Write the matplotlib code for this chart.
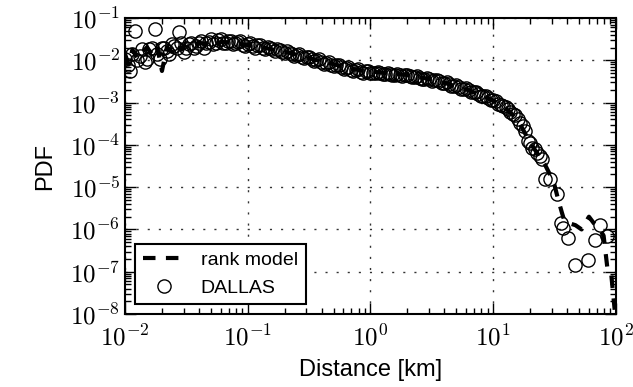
import matplotlib
matplotlib.use("Agg")
import matplotlib.pyplot as plt
import matplotlib.ticker as mticker
import numpy as np

plt.rcParams['mathtext.fontset'] = 'cm'
plt.rcParams['font.family'] = ['Liberation Sans', 'DejaVu Sans']

# DALLAS circles (distance in km, pdf)
dallas_km = [
    0.0100, 0.0110, 0.0120, 0.0132, 0.0145, 0.0158, 0.0174, 0.0191, 0.0209, 0.0229,
    0.0251, 0.0275, 0.0302, 0.0331, 0.0363, 0.0398, 0.0437, 0.0479, 0.0525, 0.0575,
    0.0631, 0.0692, 0.0759, 0.0832, 0.0912,
    0.100, 0.110, 0.120, 0.132, 0.145, 0.158, 0.174, 0.191, 0.209, 0.229,
    0.251, 0.275, 0.302, 0.331, 0.363, 0.398, 0.437, 0.479, 0.525, 0.575,
    0.631, 0.692, 0.759, 0.832, 0.912,
    1.00, 1.10, 1.20, 1.32, 1.45, 1.58, 1.74, 1.91, 2.09, 2.29,
    2.51, 2.75, 3.02, 3.31, 3.63, 3.98, 4.37, 4.79, 5.25, 5.75,
    6.31, 6.92, 7.59, 8.32, 9.12,
    10.0, 11.0, 12.0, 13.2, 14.5, 15.8, 17.4, 19.1, 20.9, 22.9, 25.1,
    26.3, 28.8, 33.1, 35.5, 37.2, 40.7, 46.8, 58.9, 67.6, 74.1, 85.1,
]
dallas_pdf = [
    1.1e-2, 5.6e-3, 5.0e-2, 1.26e-2, 8.9e-3, 1.8e-2, 5.4e-2, 1.1e-2, 2.0e-2, 1.4e-2,
    2.2e-2, 4.6e-2, 1.6e-2, 2.4e-2, 1.9e-2, 2.5e-2, 2.0e-2, 2.75e-2, 2.4e-2, 3.0e-2,
    2.6e-2, 2.8e-2, 2.4e-2, 2.7e-2, 2.3e-2,
    2.4e-2, 2.2e-2, 2.3e-2, 2.0e-2, 2.1e-2, 1.8e-2, 1.8e-2, 1.6e-2, 1.65e-2, 1.4e-2,
    1.35e-2, 1.2e-2, 1.17e-2, 1.05e-2, 1.0e-2, 8.9e-3, 8.7e-3, 7.6e-3, 7.6e-3, 6.8e-3,
    6.5e-3, 5.9e-3, 5.75e-3, 5.4e-3, 5.5e-3,
    5.1e-3, 5.0e-3, 4.9e-3, 4.7e-3, 4.8e-3, 4.6e-3, 4.5e-3, 4.4e-3, 4.3e-3, 4.1e-3,
    3.9e-3, 3.7e-3, 3.55e-3, 3.4e-3, 3.2e-3, 2.95e-3, 2.7e-3, 2.5e-3, 2.3e-3, 2.15e-3,
    1.95e-3, 1.75e-3, 1.6e-3, 1.4e-3, 1.25e-3,
    1.12e-3, 9.5e-4, 8.3e-4, 6.9e-4, 5.4e-4, 4.0e-4, 2.8e-4, 1.26e-4, 8.5e-5, 6.5e-5, 4.7e-5,
    1.6e-5, 1.6e-5, 6.8e-6, 1.4e-6, 1.07e-6, 6.3e-7, 1.45e-7, 1.9e-7, 5.6e-7, 1.3e-6, 7.1e-7,
]
# second batch of DALLAS bins, lying between the ones above
dallas_km_b = [
    0.0105, 0.0115, 0.0126, 0.0138, 0.0151, 0.0166, 0.0182, 0.0200, 0.0219, 0.0240,
    0.0263, 0.0288, 0.0316, 0.0347, 0.0380, 0.0417, 0.0457, 0.0501, 0.0550, 0.0603,
    0.0661, 0.0724, 0.0794, 0.0871, 0.0955,
    0.105, 0.115, 0.126, 0.138, 0.151, 0.166, 0.182, 0.200, 0.219, 0.240,
    0.263, 0.288, 0.316, 0.347, 0.380, 0.417, 0.457, 0.501, 0.550, 0.603,
    0.661, 0.724, 0.794, 0.871, 0.955,
    1.05, 1.15, 1.26, 1.38, 1.51, 1.66, 1.82, 2.00, 2.19, 2.40,
    2.63, 2.88, 3.16, 3.47, 3.80, 4.17, 4.57, 5.01, 5.50, 6.03,
    6.61, 7.24, 7.94, 8.71, 9.55,
    10.5, 11.5, 12.6, 13.8, 15.1, 16.6, 18.2, 20.0, 21.9, 24.0,
]
dallas_pdf_b = [
    7.9e-3, 1.4e-2, 1.0e-2, 1.8e-2, 1.1e-2, 2.0e-2, 1.4e-2, 1.9e-2, 1.66e-2, 2.4e-2,
    1.9e-2, 2.5e-2, 2.0e-2, 2.6e-2, 2.2e-2, 2.8e-2, 2.5e-2, 3.2e-2, 2.6e-2, 3.2e-2,
    2.5e-2, 2.9e-2, 2.5e-2, 2.8e-2, 2.2e-2,
    2.5e-2, 2.0e-2, 2.24e-2, 1.86e-2, 2.0e-2, 1.62e-2, 1.74e-2, 1.45e-2, 1.5e-2, 1.29e-2,
    1.38e-2, 1.12e-2, 1.2e-2, 9.5e-3, 1.05e-2, 8.3e-3, 8.9e-3, 7.2e-3, 7.9e-3, 6.3e-3,
    6.9e-3, 5.5e-3, 6.2e-3, 5.1e-3, 5.6e-3,
    4.9e-3, 5.4e-3, 4.7e-3, 5.1e-3, 4.5e-3, 4.8e-3, 4.2e-3, 4.6e-3, 4.0e-3, 4.3e-3,
    3.6e-3, 3.8e-3, 3.3e-3, 3.5e-3, 2.95e-3, 3.0e-3, 2.5e-3, 2.6e-3, 2.14e-3, 2.2e-3,
    1.78e-3, 1.74e-3, 1.41e-3, 1.41e-3, 1.12e-3,
    1.07e-3, 8.7e-4, 7.9e-4, 6.0e-4, 5.0e-4, 3.2e-4, 2.1e-4, 1.12e-4, 7.9e-5, 5.6e-5,
]

# rank model line
rank_km = [
    0.0100, 0.0107, 0.0115, 0.0126, 0.0138, 0.0151, 0.0166, 0.0182, 0.0200, 0.0219,
    0.0240, 0.0263, 0.0288, 0.0316, 0.0355, 0.0398, 0.0447, 0.0501, 0.0562, 0.0631,
    0.0794, 0.100, 0.126, 0.158, 0.200, 0.251, 0.316, 0.398, 0.501, 0.631, 0.794,
    1.00, 1.26, 1.58, 2.00, 2.51, 3.16, 3.98, 5.01, 6.31, 7.94,
    10.0, 12.6, 15.8, 20.0, 22.9, 26.3, 29.5, 31.6, 33.9, 36.3, 38.0, 41.7, 46.8,
    52.5, 60.3, 66.1, 74.1, 79.4, 85.1, 91.2, 97.7,
]
rank_pdf = [
    1.41e-2, 7.9e-3, 1.78e-2, 1.12e-2, 1.58e-2, 2.0e-2, 1.41e-2, 2.24e-2, 5.6e-3, 2.0e-2,
    1.58e-2, 2.4e-2, 1.78e-2, 2.5e-2, 2.1e-2, 2.6e-2, 2.4e-2, 2.8e-2, 2.5e-2, 2.75e-2,
    2.5e-2, 2.3e-2, 2.1e-2, 1.8e-2, 1.58e-2, 1.35e-2, 1.12e-2, 9.5e-3, 8.1e-3, 6.8e-3, 5.9e-3,
    5.4e-3, 5.1e-3, 4.8e-3, 4.5e-3, 4.0e-3, 3.5e-3, 2.95e-3, 2.4e-3, 1.95e-3, 1.5e-3,
    1.12e-3, 7.4e-4, 4.0e-4, 1.12e-4, 6.3e-5, 3.5e-5, 1.8e-5, 1.12e-5, 5.0e-6, 2.5e-6, 1.6e-6, 1.4e-6, 1.26e-6,
    1.0e-6, 2.0e-6, 1.4e-6, 1.0e-6, 7.1e-7, 1.26e-7, 1.0e-7, 1.26e-8,
]

fig = plt.figure(figsize=(6.33, 3.87), dpi=100)
ax = fig.add_axes([0.1975, 0.1886, 0.7755, 0.7649])

ax.plot(rank_km, rank_pdf, color='black', lw=3, dashes=(3, 2.5), label='rank model')
ax.plot(dallas_km + dallas_km_b, dallas_pdf + dallas_pdf_b, 'o', mfc='none', mec='black',
        mew=1.0, ms=9.5, label='DALLAS')

ax.set_xscale('log')
ax.set_yscale('log')
ax.set_xlim(1e-2, 1e2)
ax.set_ylim(1e-8, 1e-1)

fmt = mticker.FuncFormatter(lambda v, p: r'$10^{%d}$' % int(round(np.log10(v))))
ax.xaxis.set_major_formatter(fmt)
ax.yaxis.set_major_formatter(fmt)
ax.yaxis.set_major_locator(mticker.LogLocator(base=10, numticks=20))
ax.yaxis.set_minor_locator(mticker.LogLocator(base=10, subs=np.arange(2, 10), numticks=20))
ax.tick_params(which='both', direction='in', top=True, right=True, labelsize=18)
ax.tick_params(which='major', length=8, width=1)
ax.tick_params(which='minor', length=4, width=1)
ax.tick_params(axis='x', pad=8)
ax.grid(True, which='major', color='#333333', linestyle=(0, (1.5, 6.5)), linewidth=1)
for s in ax.spines.values():
    s.set_linewidth(1.5)

ax.set_xlabel('Distance [km]', fontsize=17, labelpad=6)
ax.set_ylabel('PDF', fontsize=17, labelpad=10)

leg = ax.legend(loc='lower left', fontsize=14, fancybox=False, edgecolor='black',
                framealpha=1, handlelength=2.2, borderaxespad=0.5)
leg.get_frame().set_linewidth(1.5)

fig.savefig('out.png', dpi=100)
